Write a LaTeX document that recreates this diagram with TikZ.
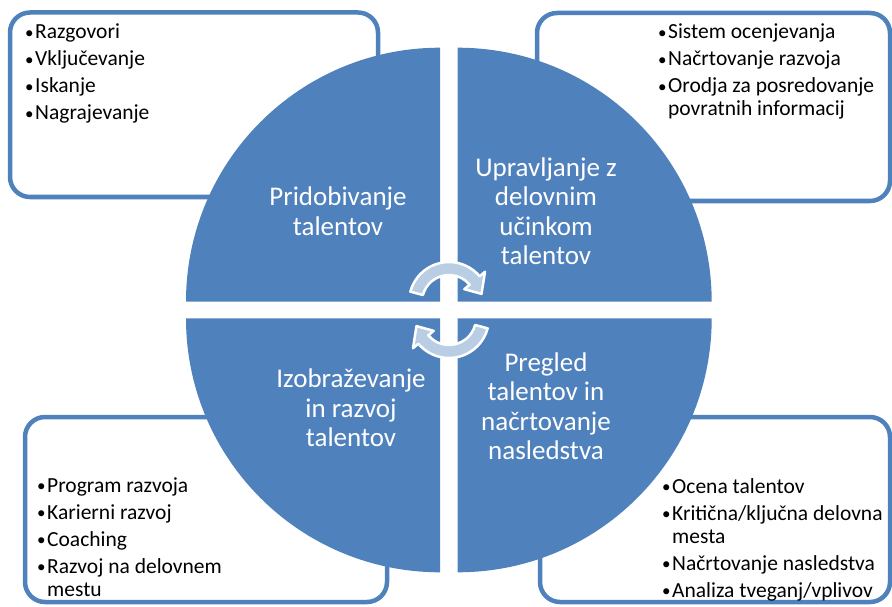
\documentclass[tikz,border=0pt]{standalone}
\usepackage{fontspec}
\setmainfont{Carlito}
\definecolor{qblue}{HTML}{4F81BD}
\definecolor{arrfill}{HTML}{B9CDE5}

% bullet list helpers
\newlength{\bulw}\setlength{\bulw}{10pt}
\newcommand{\bmark}{\raisebox{0.5pt}{\fontsize{17}{17}\selectfont\textbullet}}
\newcommand{\bitem}[1]{\par\noindent\hangindent=\bulw\hangafter=1\makebox[\bulw][l]{\bmark}#1}
\newcommand{\blist}[1]{\parbox[t]{320pt}{\setlength{\parskip}{4pt}#1}}

\begin{document}
\begin{tikzpicture}[x=1pt,y=-1pt,
  infobox/.style={draw=qblue, line width=4.5pt, fill=white, rounded corners=20pt},
  quad/.style={fill=qblue},
  listtext/.style={anchor=base west, inner sep=0pt, text=black,
                   font=\fontsize{21.5}{23}\selectfont},
  quadlabel/.style={text=white, align=center, inner sep=0pt,
                    font=\fontsize{27}{29.5}\selectfont},
  cyclearrow/.style={fill=arrfill, draw=white, line width=2.5pt, line join=round}]

\useasboundingbox (0,0) rectangle (892,607);

% outer boxes, partly covered by the circle
\draw[infobox] (10,12.5) rectangle (378,197);
\draw[infobox] (537,13) rectangle (890,201);
\draw[infobox] (25,417) rectangle (387,602);
\draw[infobox] (540,417) rectangle (890,602);

% four quarters of the circle
\fill[quad] (440,301.7) -- ++(-254pt,0pt) arc[start angle=180,end angle=90,radius=254pt] -- cycle;
\fill[quad] (457.7,301.7) -- ++(0pt,254pt) arc[start angle=90,end angle=0,radius=254pt] -- cycle;
\fill[quad] (440,318.3) -- ++(-254pt,0pt) arc[start angle=180,end angle=270,radius=254pt] -- cycle;
\fill[quad] (457.7,318.3) -- ++(254pt,0pt) arc[start angle=0,end angle=-90,radius=254pt] -- cycle;

% circular arrows in the middle
\begin{scope}[shift={(449,302)}]
  \draw[cyclearrow] (165:40pt) arc[start angle=165,end angle=40,radius=40pt]
    -- (40:47pt) -- (14:33.5pt) -- (40:20pt) -- (40:27pt)
    arc[start angle=40,end angle=165,radius=27pt] -- cycle;
\end{scope}
\begin{scope}[shift={(449,318)}]
  \draw[cyclearrow] (345:40pt) arc[start angle=345,end angle=220,radius=40pt]
    -- (220:47pt) -- (194:33.5pt) -- (220:20pt) -- (220:27pt)
    arc[start angle=220,end angle=345,radius=27pt] -- cycle;
\end{scope}

% quarter labels
\node[quadlabel] (pridobivanje) at (338,211) {Pridobivanje\\talentov};
\node[quadlabel] (upravljanje) at (546,211) {Upravljanje z\\delovnim\\učinkom\\talentov};
\node[quadlabel] (izobrazevanje) at (351,408) {Izobraževanje\\in razvoj\\talentov};
\node[quadlabel] (pregled) at (546,406) {Pregled\\talentov in\\načrtovanje\\nasledstva};

% bullet lists
\node[listtext] (listTL) at (25,39) {\blist{%
  \bitem{Razgovori}\bitem{Vključevanje}\bitem{Iskanje}\bitem{Nagrajevanje}}};
\node[listtext] (listTR) at (658,39) {\blist{%
  \bitem{Sistem ocenjevanja}\bitem{Načrtovanje razvoja}%
  \bitem{Orodja za posredovanje\\povratnih informacij}}};
\node[listtext] (listBL) at (37,492) {\blist{%
  \bitem{Program razvoja}\bitem{Karierni razvoj}\bitem{Coaching}%
  \bitem{Razvoj na delovnem\\mestu}}};
\node[listtext] (listBR) at (662,493) {\blist{%
  \bitem{Ocena talentov}\bitem{Kritična/ključna delovna\\mesta}%
  \bitem{Načrtovanje nasledstva}\bitem{Analiza tveganj/vplivov}}};
\end{tikzpicture}
\end{document}
